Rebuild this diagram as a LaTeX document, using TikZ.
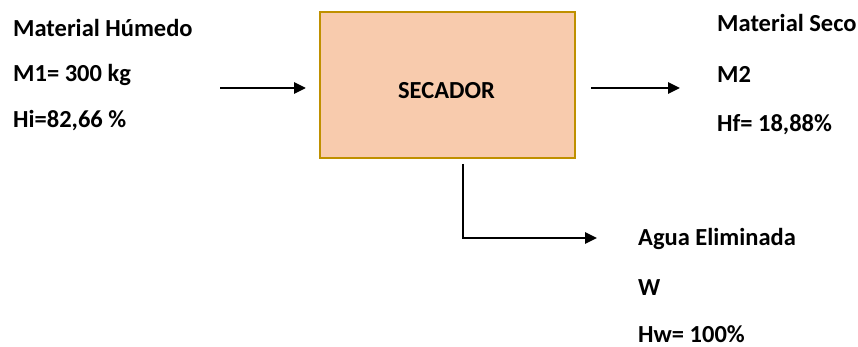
\documentclass[tikz,border=0pt]{standalone}
\usepackage{fontspec}
\setmainfont{Carlito}
\usetikzlibrary{arrows.meta, positioning}

\definecolor{boxfill}{HTML}{F8CBAD}
\definecolor{boxline}{HTML}{BF9000}

\tikzset{
  flow/.style={-{Triangle[length=12pt, width=11pt]}, line width=2.8pt},
  label/.style={anchor=base west, inner sep=0pt, font=\fontsize{24.5}{28}\selectfont\bfseries}
}

\begin{document}
\begin{tikzpicture}[x=1pt, y=1pt, line join=miter]
    \useasboundingbox (0,0) rectangle (858,-347);

    % Dryer block
    \node[draw=boxline, line width=2pt, fill=boxfill, minimum width=255pt, minimum height=146pt,
          inner sep=0pt] (secador) at (447.5,-85) {};
    \node[label, anchor=base] (secadorname) at (446.5,-99) {SECADOR};

    % Wet feed
    \node[label] (humedo) at (13,-37) {Material Húmedo};
    \node[label] (mone)   at (13,-82) {M1= 300 kg};
    \node[label] (hi)     at (13,-128) {Hi=82,66 \%};

    % Dry product
    \node[label] (seco) at (717,-32) {Material Seco};
    \node[label] (mtwo) at (717,-83) {M2};
    \node[label] (hf)   at (717,-132) {Hf= 18,88\%};

    % Removed water
    \node[label] (agua) at (638,-245) {Agua Eliminada};
    \node[label] (w)    at (638,-295) {W};
    \node[label] (hw)   at (638,-342) {Hw= 100\%};

    % Stream ends
    \coordinate (feed) at (220,-88);
    \coordinate (prod) at (680,-88);
    \coordinate (drain) at (463,-164);
    \coordinate (water) at (597,-238);

    % Arrows
    \draw[flow, shorten >=13pt] (feed) -- (secador.west |- feed);
    \draw[flow, shorten <=15pt] (secador.east |- prod) -- (prod);
    \draw[flow] (drain) |- (water);
\end{tikzpicture}
\end{document}
